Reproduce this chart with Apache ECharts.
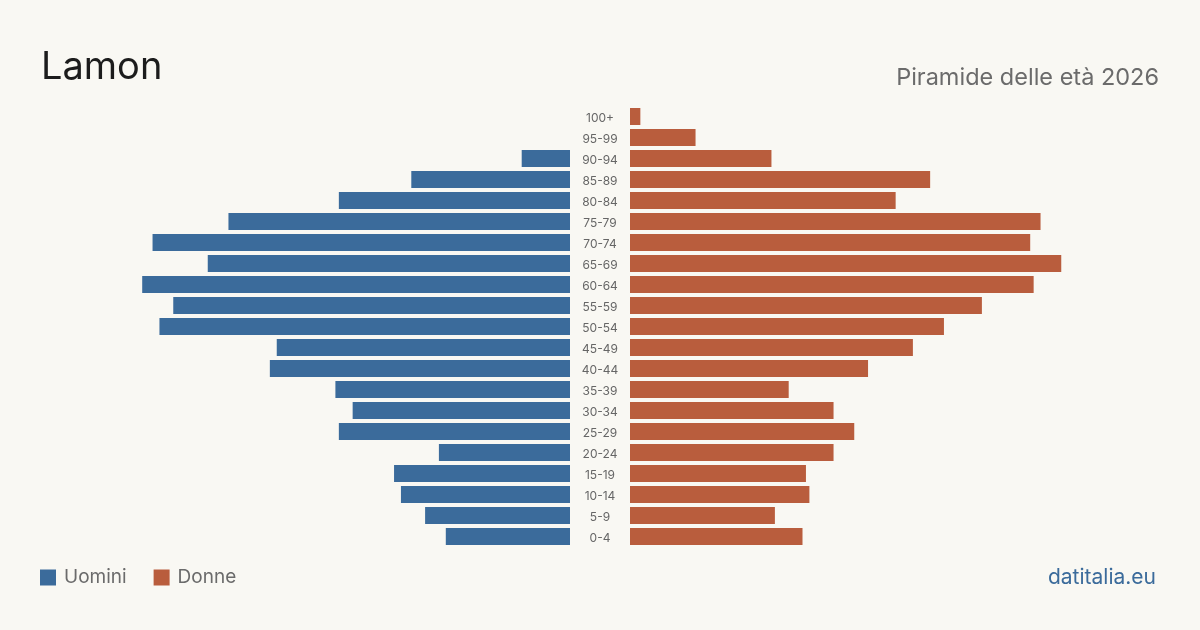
<!DOCTYPE html>
<html>
<head>
<meta charset="utf-8">
<style>
  html, body { margin: 0; padding: 0; background: #f9f8f3; }
  #chart { width: 1200px; height: 630px; }
</style>
<script src="https://cdn.jsdelivr.net/npm/echarts@6/dist/echarts.min.js"></script>
</head>
<body>
<div id="chart"></div>
<script>
// classi di età, dal basso verso l'alto
const ageGroups = ['0-4', '5-9', '10-14', '15-19', '20-24', '25-29', '30-34', '35-39', '40-44', '45-49',
  '50-54', '55-59', '60-64', '65-69', '70-74', '75-79', '80-84', '85-89', '90-94', '95-99', '100+']
const uomini = [36, 42, 49, 51, 38, 67, 63, 68, 87, 85, 119, 115, 124, 105, 121, 99, 67, 46, 14, 0, 0]
const donne = [50, 42, 52, 51, 59, 65, 59, 46, 69, 82, 91, 102, 117, 125, 116, 119, 77, 87, 41, 19, 3]

const blue = '#3b6b9b'
const orange = '#b95d3d'
const axisMax = 150
const textFont = 'Inter, "Noto Sans", sans-serif'

const chart = echarts.init(document.getElementById('chart'))

const option = {
  backgroundColor: '#f9f8f3',
  animation: false,
  textStyle: { fontFamily: textFont },
  title: [
    {
      text: 'Lamon',
      left: 36,
      top: 44,
      textStyle: { fontSize: 38, fontWeight: 'normal', color: '#1c1c1c', fontFamily: textFont },
    },
    {
      text: 'Piramide delle età 2026',
      right: 36,
      top: 61,
      textStyle: { fontSize: 23.5, fontWeight: 'normal', color: '#6b6b6b', fontFamily: textFont },
    },
    {
      text: 'datitalia.eu',
      right: 39,
      top: 562,
      textStyle: { fontSize: 21, fontWeight: 'normal', color: blue, fontFamily: textFont },
    },
  ],
  legend: {
    left: 40,
    top: 568,
    padding: 0,
    icon: 'rect',
    itemWidth: 16,
    itemHeight: 16,
    itemGap: 27,
    textStyle: { fontSize: 19, color: '#6b6b6b', fontFamily: textFont, padding: [0, 0, 0, 3] },
    data: ['Uomini', 'Donne'],
  },
  grid: [
    { left: 52.5, right: 630, top: 106, bottom: 83 },
    { left: 630, right: 52.5, top: 106, bottom: 83 },
  ],
  xAxis: [
    {
      gridIndex: 0, type: 'value', inverse: true, min: 0, max: axisMax,
      axisLine: { show: false }, axisTick: { show: false }, axisLabel: { show: false }, splitLine: { show: false },
    },
    {
      gridIndex: 1, type: 'value', min: 0, max: axisMax,
      axisLine: { show: false }, axisTick: { show: false }, axisLabel: { show: false }, splitLine: { show: false },
    },
  ],
  yAxis: [
    {
      gridIndex: 0, type: 'category', data: ageGroups,
      axisLine: { show: false }, axisTick: { show: false }, axisLabel: { show: false },
    },
    {
      gridIndex: 1, type: 'category', data: ageGroups, position: 'left',
      axisLine: { show: false }, axisTick: { show: false },
      axisLabel: {
        show: true, margin: 30, align: 'center',
        formatter: v => '{a|' + v + '}',
        rich: {
          a: { fontSize: 12, color: '#666666', fontFamily: textFont, padding: [4, 0, 0, 0] },
        },
      },
    },
  ],
  series: [
    {
      name: 'Uomini', type: 'bar', xAxisIndex: 0, yAxisIndex: 0,
      data: uomini, barCategoryGap: '19%', itemStyle: { color: blue },
    },
    {
      name: 'Donne', type: 'bar', xAxisIndex: 1, yAxisIndex: 1,
      data: donne, barCategoryGap: '19%', itemStyle: { color: orange },
    },
  ],
}

chart.setOption(option)
</script>
</body>
</html>
